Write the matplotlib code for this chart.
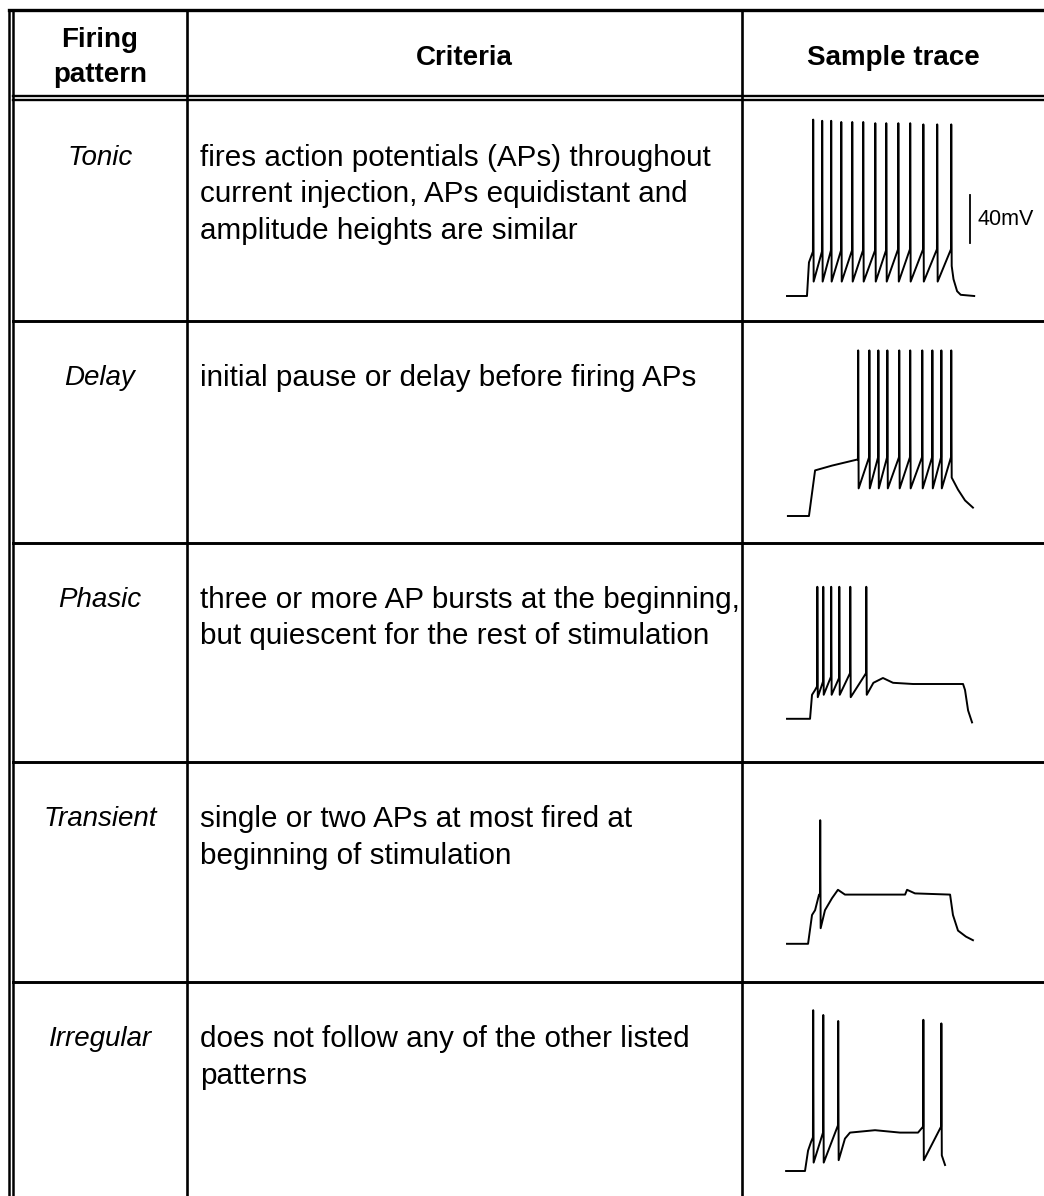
import matplotlib
matplotlib.use("Agg")
import matplotlib.pyplot as plt

plt.rcParams['font.family'] = ['Liberation Sans', 'DejaVu Sans']

W, H = 1044, 1196

# ---------------- table content ----------------
header_pattern = ["Firing", "pattern"]
header_criteria = "Criteria"
header_trace = "Sample trace"
patterns = ["Tonic", "Delay", "Phasic", "Transient", "Irregular"]
criteria = [
    ["fires action potentials (APs) throughout",
     "current injection, APs equidistant and",
     "amplitude heights are similar"],
    ["initial pause or delay before firing APs"],
    ["three or more AP bursts at the beginning,",
     "but quiescent for the rest of stimulation"],
    ["single or two APs at most fired at",
     "beginning of stimulation"],
    ["does not follow any of the other listed",
     "patterns"],
]

# ---------------- trace data (time in ms, potential in mV) ----------------
# Tonic
tonic_pre_t = [0, 111, 122]
tonic_pre_v = [-70, -70, -42]
tonic_spike_t = [144, 194, 244, 300, 361, 422, 489, 550, 617, 683, 756, 833, 911]
tonic_thr = [-33, -33, -32, -32, -32, -32, -32, -32, -31, -31, -31, -31, -31]
tonic_peak = [77, 76, 76, 75, 75, 75, 74, 74, 74, 74, 73, 73, 73]
tonic_trough = [-58, -58, -58, -58, -58, -58, -58, -58, -58, -58, -58, -58, -45]
tonic_post_t = [925, 945, 965, 1040]
tonic_post_v = [-56, -66, -69, -70]

# Delay
delay_pre_t = [5, 122, 156, 250, 389]
delay_pre_v = [-70, -70, -32, -28, -23]
delay_spike_t = [394, 456, 506, 556, 622, 683, 750, 806, 856, 911]
delay_thr = [-23, -21, -21, -21, -21, -21, -21, -21, -21, -21]
delay_peak = [68, 68, 68, 68, 68, 68, 68, 68, 68, 68]
delay_trough = [-47, -47, -47, -47, -47, -47, -47, -47, -47, -38]
delay_post_t = [950, 989, 1033]
delay_post_v = [-48, -57, -63]

# Phasic
phasic_pre_t = [0, 128, 139, 156]
phasic_pre_v = [-54, -54, -34, -30]
phasic_spike_t = [167, 200, 244, 289, 350, 439]
phasic_thr = [-27, -23, -19, -20, -16, -16]
phasic_peak = [56, 56, 56, 56, 56, 56]
phasic_trough = [-36, -34, -34, -34, -36, -34]
phasic_post_t = [480, 533, 589, 700, 800, 900, 978, 989, 1006, 1028]
phasic_post_v = [-24, -20, -24, -25, -25, -25, -25, -30, -47, -57]

# Transient
transient_pre_t = [0, 117, 139, 156, 178]
transient_pre_v = [-59, -59, -35, -31, -18]
transient_spike_t = [183]
transient_thr = [-18]
transient_peak = [44]
transient_trough = [-46]
transient_post_t = [211, 250, 283, 322, 450, 656, 667, 711, 906, 922, 950, 994, 1033]
transient_post_v = [-31, -21, -14, -18, -18, -18, -14, -17, -18, -35, -48, -53, -56]

# Irregular
irregular_pre_t = [-5, 100, 117, 133]
irregular_pre_v = [-65, -65, -48, -41]
irregular_spike_t = [144, 200, 283, 756, 856]
irregular_thr = [-37, -33, -27, -28, -28]
irregular_peak = [69, 65, 60, 61, 58]
irregular_trough = [-58, -58, -56, -56, -52]
irregular_gap_t = [322, 350, 489, 628, 728]   # plateau between 3rd and 4th spike
irregular_gap_v = [-38, -33, -31, -33, -33]
irregular_post_t = [878]
irregular_post_v = [-60]

# scale bar
scalebar_mv = 40
scalebar_t = 1017
scalebar_bottom = -26
scalebar_label = "40mV"

# ---------------- layout (pixels) ----------------
top_y = 10
header_bottom = 99
row_tops = [101, 321, 543, 762, 982]
col_x = [187, 742]
left_x = [9, 13]
row_h = 220
FS = 20
FS_CRIT = 21.3


def build(pre_t, pre_v, sp_t, thr, peak, trough, post_t, post_v, gap_after=None, gap_t=None, gap_v=None):
    t = list(pre_t)
    v = list(pre_v)
    for i in range(len(sp_t)):
        t += [sp_t[i], sp_t[i] + 1.5, sp_t[i] + 4]
        v += [thr[i], peak[i], trough[i]]
        if gap_after is not None and i == gap_after:
            t += list(gap_t)
            v += list(gap_v)
    t += list(post_t)
    v += list(post_v)
    return t, v


traces = [
    build(tonic_pre_t, tonic_pre_v, tonic_spike_t, tonic_thr, tonic_peak, tonic_trough,
          tonic_post_t, tonic_post_v),
    build(delay_pre_t, delay_pre_v, delay_spike_t, delay_thr, delay_peak, delay_trough,
          delay_post_t, delay_post_v),
    build(phasic_pre_t, phasic_pre_v, phasic_spike_t, phasic_thr, phasic_peak, phasic_trough,
          phasic_post_t, phasic_post_v),
    build(transient_pre_t, transient_pre_v, transient_spike_t, transient_thr, transient_peak,
          transient_trough, transient_post_t, transient_post_v),
    build(irregular_pre_t, irregular_pre_v, irregular_spike_t, irregular_thr, irregular_peak,
          irregular_trough, irregular_post_t, irregular_post_v,
          gap_after=2, gap_t=irregular_gap_t, gap_v=irregular_gap_v),
]

fig = plt.figure(figsize=(W / 100, H / 100), dpi=100)
ax = fig.add_axes([0, 0, 1, 1])
ax.set_xlim(0, W)
ax.set_ylim(H, 0)
ax.axis('off')

lc = 'black'
# outer/top borders
ax.plot([left_x[0], W], [top_y, top_y], color=lc, lw=2.4)
for x in left_x:
    ax.plot([x, x], [top_y, H], color=lc, lw=1.8)
for x in col_x:
    ax.plot([x, x], [top_y, H], color=lc, lw=1.9)
# header double line
ax.plot([left_x[1], W], [header_bottom - 3, header_bottom - 3], color=lc, lw=1.7)
ax.plot([left_x[1], W], [header_bottom + 1, header_bottom + 1], color=lc, lw=1.7)
for yt in row_tops[1:]:
    ax.plot([left_x[1], W], [yt, yt], color=lc, lw=2.1)

# header text
cx1 = (left_x[1] + col_x[0]) / 2
cx2 = (col_x[0] + col_x[1]) / 2
cx3 = (col_x[1] + W) / 2
ax.text(cx1, 40, header_pattern[0], ha='center', va='center', fontsize=FS, fontweight='bold')
ax.text(cx1, 75, header_pattern[1], ha='center', va='center', fontsize=FS, fontweight='bold')
ax.text(cx2, 58, header_criteria, ha='center', va='center', fontsize=FS, fontweight='bold')
ax.text(cx3, 58, header_trace, ha='center', va='center', fontsize=FS, fontweight='bold')

for r, (name, lines) in enumerate(zip(patterns, criteria)):
    yt = row_tops[r]
    ax.text(cx1, yt + 57, name, ha='center', va='center', fontsize=FS, style='italic')
    for k, line in enumerate(lines):
        ax.text(200, yt + 57 + 36.5 * k, line, ha='left', va='center', fontsize=FS_CRIT)

# trace axes: x_px = 787 + 0.18*t ; y_px = top + 195 - 1.2*(v + 70)
kx, ky = 0.18, 1.2
for r, (t, v) in enumerate(traces):
    yt = row_tops[r]
    x0, x1 = col_x[1], W
    y0, y1 = yt, yt + row_h
    tax = fig.add_axes([x0 / W, 1 - y1 / H, (x1 - x0) / W, (y1 - y0) / H])
    tax.set_xlim((x0 - 787) / kx, (x1 - 787) / kx)
    tax.set_ylim(-70 - (y1 - yt - 195) / ky, -70 + 195 / ky)
    tax.axis('off')
    tax.patch.set_alpha(0)
    tax.plot(t, v, color='black', lw=1.4, solid_joinstyle='round')
    if r == 0:
        tax.plot([scalebar_t, scalebar_t], [scalebar_bottom, scalebar_bottom + scalebar_mv],
                 color='black', lw=1.3)
        tax.text(scalebar_t + 44, scalebar_bottom + scalebar_mv / 2, scalebar_label,
                 ha='left', va='center', fontsize=15.5,
                 family=['Liberation Sans Narrow', 'Liberation Sans'])

fig.savefig('out.png', dpi=100)
